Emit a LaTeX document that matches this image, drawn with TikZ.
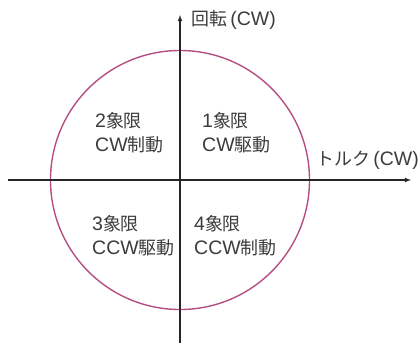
\documentclass[tikz,border=0pt]{standalone}
\usepackage{fontspec}
\setmainfont{Liberation Sans}
\newfontfamily\jp{Noto Sans CJK JP}[Scale=0.92]
\usetikzlibrary{positioning, arrows}

\definecolor{rimcolor}{RGB}{180,78,130}
\definecolor{inkgray}{RGB}{60,60,60}

\begin{document}
\begin{tikzpicture}[x=1pt, y=-1pt, inner sep=0pt,
	axis/.style={draw=black!85, line width=1.1pt, -latex},
	rim/.style={draw=rimcolor, line width=1.4pt},
	lbl/.style={text=inkgray, font=\fontsize{19.5}{24}\selectfont, align=left, anchor=west}]
	\useasboundingbox (0,0) rectangle (419,343);
	\coordinate (o) at (180,180);
	\coordinate (xl) at (8,180);
	\coordinate (xr) at (411,180);
	\coordinate (yb) at (180,343);
	\coordinate (yt) at (180,15);
	\draw [rim] (o) circle [radius=129.5];
	\path
		(xl) edge [axis] (xr)
		(yb) edge [axis] (yt)
	;
	\node (ylab) [lbl] at (191,20) {{\jp 回転}\,(CW)};
	\node (xlab) [lbl] at (316,160) {{\jp トルク}\,(CW)};
	\node (q1) [lbl] at (202,133) {1{\jp 象限}\\CW{\jp 駆動}};
	\node (q2) [lbl] at (95,133) {2{\jp 象限}\\CW{\jp 制動}};
	\node (q3) [lbl] at (92,236) {3{\jp 象限}\\CCW{\jp 駆動}};
	\node (q4) [lbl] at (194,236) {4{\jp 象限}\\CCW{\jp 制動}};
\end{tikzpicture}
\end{document}
